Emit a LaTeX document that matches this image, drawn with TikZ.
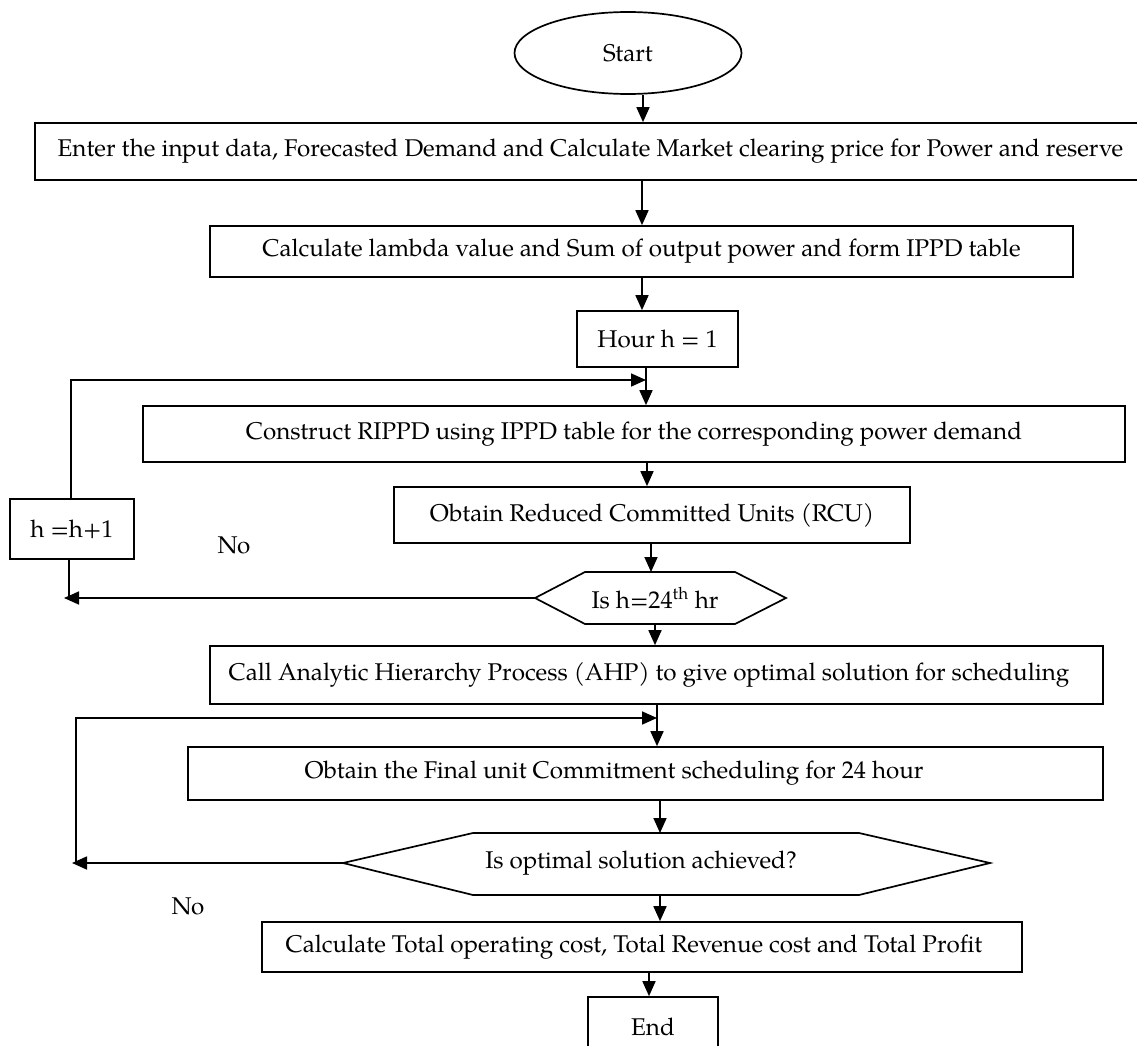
\documentclass[tikz,border=0pt]{standalone}
\usepackage{fontspec}
\setmainfont{texgyrepagella-regular.otf}
\usetikzlibrary{arrows.meta,shapes.geometric}
\newcommand\fsz{\fontsize{24.2}{28}\selectfont}
\begin{document}
\begin{tikzpicture}[x=1pt,y=-1pt,
  ln/.style={line width=1.7pt},
  arr/.style={ln,-{Triangle[length=15pt,width=13pt]}},
  box/.style={draw,ln,rectangle,inner sep=0pt,font=\fsz},
  txt/.style={inner sep=0pt,font=\fsz}]
\useasboundingbox (0,0) rectangle (1137,1046);
% nodes
\node[box,ellipse,minimum width=227pt,minimum height=82pt] (start) at (628,53) {Start};
\node[box,minimum width=1111pt,minimum height=57pt] (b1) at (590.5,151.5) {Enter the input data, Forecasted Demand and Calculate Market clearing price for Power and reserve};
\node[box,minimum width=863pt,minimum height=51pt] (b2) at (641.5,251.5) {Calculate lambda value and Sum of output power and form IPPD table};
\node[box,minimum width=161pt,minimum height=56pt] (hour) at (657.5,339) {Hour h = 1};
\node[box,minimum width=982pt,minimum height=56pt] (b4) at (634,434) {Construct RIPPD using IPPD table for the corresponding power demand};
\node[box,minimum width=516pt,minimum height=56pt] (b5) at (652,515) {Obtain Reduced Committed Units (RCU)};
\node[box,minimum width=124pt,minimum height=60pt] (hinc) at (72,529) {h =h+1};
\node[txt] (no1) at (234,545) {No};
% hexagon 1
\coordinate (q1w) at (535,598);
\coordinate (q1n) at (653,572);
\coordinate (q1s) at (655,624);
\draw[ln] (q1w) -- (585,572) -- (735,572) -- (786,598) -- (735,624) -- (585,624) -- cycle;
\node[txt] (q1) at (655,598) {Is h=24\textsuperscript{th} hr};
% lower part
\node[box,minimum width=893pt,minimum height=58pt] (ahp) at (656.5,675) {};
\node[txt] (ahpt) at (649,675) {Call Analytic Hierarchy Process (AHP) to give optimal solution for scheduling};
\node[box,minimum width=915pt,minimum height=53pt] (fin) at (645.5,773.5) {};
\node[txt] (fint) at (614,773.5) {Obtain the Final unit Commitment scheduling for 24 hour};
% hexagon 2
\coordinate (q2w) at (343,863);
\coordinate (q2n) at (660,833);
\coordinate (q2s) at (660,895);
\draw[ln] (q2w) -- (473,833) -- (859,833) -- (990,863) -- (859,895) -- (473,895) -- cycle;
\node[txt] (q2) at (641,863) {Is optimal solution achieved?};
\node[txt] (no2) at (188,906) {No};
\node[box,minimum width=760pt,minimum height=50pt] (tot) at (642,947) {};
\node[txt] (tott) at (634,947) {Calculate Total operating cost, Total Revenue cost and Total Profit};
\node[box,minimum width=130pt,minimum height=60pt] (end) at (653,1027) {End};
% connectors
\draw[arr] (643,0 |- start.south) -- (643,0 |- b1.north);
\draw[arr] (642,0 |- b1.south) -- (642,0 |- b2.north);
\draw[arr] (642,0 |- b2.south) -- (642,0 |- hour.north);
\draw[arr] (646,0 |- hour.south) -- (646,0 |- b4.north);
\coordinate (j1) at (646,380);
\draw[arr] (71,0 |- hinc.north) |- (j1);
\draw[arr] (647,0 |- b4.south) -- (647,0 |- b5.north);
\draw[arr] (651,0 |- b5.south) -- (651,0 |- q1n);
\coordinate (j2) at (64,598);
\draw[arr] (q1w) -- (j2);
\draw[ln] (69,0 |- hinc.south) -- (69,0 |- q1w);
\draw[arr] (q1s) -- (655,0 |- ahp.north);
\draw[arr] (657,0 |- ahp.south) -- (657,0 |- fin.north);
\coordinate (j3) at (657,718);
\coordinate (j4) at (72,863);
\coordinate (c4) at (76,863);
\draw[arr] (q2w) -- (j4);
\draw[arr] (c4) |- (j3);
\draw[arr] (660,0 |- fin.south) -- (q2n);
\draw[arr] (q2s) -- (660,0 |- tot.north);
\draw[arr] (649,0 |- tot.south) -- (649,0 |- end.north);
\end{tikzpicture}
\end{document}
